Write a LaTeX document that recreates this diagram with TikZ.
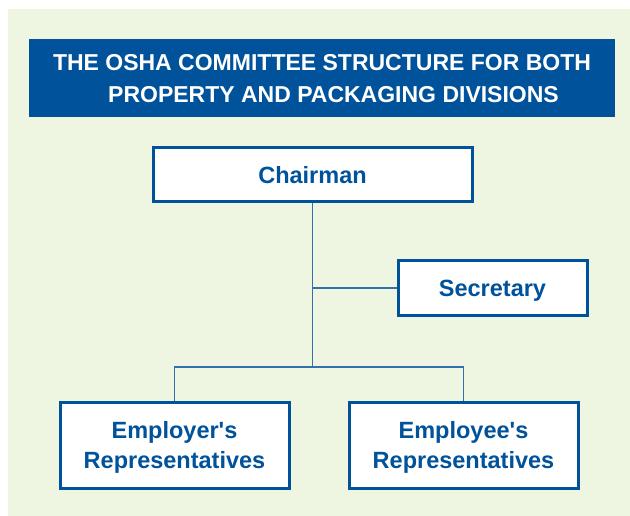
\documentclass[tikz,border=0pt]{standalone}
\usepackage{fontspec}
\setmainfont{Liberation Sans}
\usetikzlibrary{positioning,calc}
\definecolor{OshaBlue}{RGB}{0,82,155}
\definecolor{OshaLine}{RGB}{52,112,174}
\definecolor{OshaGreen}{RGB}{238,245,224}
\tikzset{
  osha/title/.style={
    fill=OshaBlue,
    draw=none,
    align=center,
    text=white,
    minimum width=586pt,
    minimum height=78pt,
    inner sep=0pt,
    text depth=0pt,
    font=\fontsize{23}{32}\selectfont\bfseries
  },
  osha/box/.style={
    draw=OshaBlue,
    line width=3pt,
    fill=white,
    align=center,
    text=OshaBlue,
    inner sep=0pt,
    text depth=0pt,
    font=\fontsize{23.5}{30}\selectfont\bfseries
  },
  osha/line/.style={line width=1.6pt, draw=OshaLine}
}
\begin{document}
\begin{tikzpicture}[x=1pt,y=-1pt]
  \useasboundingbox (0,0) rectangle (630,516);
  \fill[OshaGreen] (8,9) rectangle (630,516);
  \node[osha/title] (title) at (322,78) {THE OSHA COMMITTEE STRUCTURE FOR BOTH\\\hspace*{23pt}PROPERTY AND PACKAGING DIVISIONS};
  \node[osha/box,minimum width=319pt,minimum height=54pt] (chair) at (312.5,175) {Chairman};
  \node[osha/box,minimum width=189pt,minimum height=54pt] (sec) at (492.5,288) {Secretary};
  \node[osha/box,minimum width=229pt,minimum height=86pt] (emplr) at (174.5,445) {Employer\textquotesingle s\\Representatives};
  \node[osha/box,minimum width=229pt,minimum height=86pt] (emple) at (463.5,445) {Employee\textquotesingle s\\Representatives};
  \coordinate (split) at (312.5,367);
  \draw[osha/line] (chair.south) -- (split);
  \draw[osha/line] (chair.south |- sec.west) -- (sec.west);
  \draw[osha/line] (split) -| (emplr.north);
  \draw[osha/line] (split) -| (emple.north);
\end{tikzpicture}
\end{document}
